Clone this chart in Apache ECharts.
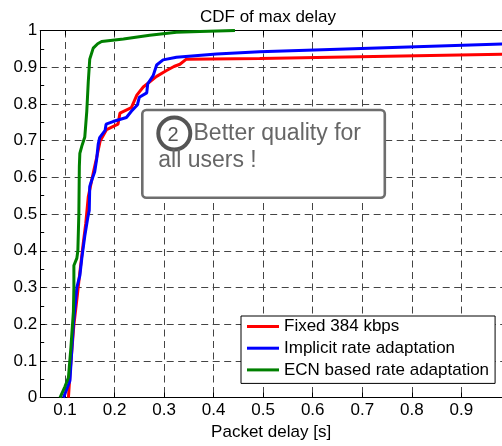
<!DOCTYPE html>
<html>
<head>
<meta charset="utf-8">
<script src="https://cdn.jsdelivr.net/npm/echarts@6/dist/echarts.min.js"></script>
<style>
  html, body { margin: 0; padding: 0; background: #ffffff; }
  #chart { width: 502px; height: 446px; }
</style>
</head>
<body>
<div id="chart"></div>
<script>
// Tick values for the delay axis (s)
const xTickValues = [0.1, 0.2, 0.3, 0.4, 0.5, 0.6, 0.7, 0.8, 0.9];

// Legend names
const seriesNames = ['Fixed 384 kbps', 'Implicit rate adaptation', 'ECN based rate adaptation'];

// CDF points: [packet delay (s), cumulative probability]
const fixedRate = [
  [0.107, 0], [0.110, 0.064], [0.118, 0.198], [0.125, 0.279], [0.130, 0.341],
  [0.137, 0.422], [0.142, 0.475], [0.147, 0.547], [0.154, 0.592], [0.158, 0.618],
  [0.164, 0.654], [0.171, 0.699], [0.184, 0.730], [0.207, 0.745], [0.211, 0.775],
  [0.234, 0.790], [0.245, 0.824], [0.258, 0.846], [0.285, 0.875], [0.305, 0.891],
  [0.320, 0.902], [0.332, 0.908], [0.345, 0.922], [0.493, 0.924], [1.0, 0.936]
];

const implicitRate = [
  [0.097, 0], [0.110, 0.046], [0.117, 0.200], [0.124, 0.300], [0.130, 0.332],
  [0.134, 0.380], [0.140, 0.440], [0.146, 0.490], [0.149, 0.510], [0.150, 0.575],
  [0.154, 0.592], [0.160, 0.615], [0.164, 0.650], [0.167, 0.690], [0.170, 0.708],
  [0.181, 0.728], [0.183, 0.745], [0.197, 0.752], [0.224, 0.763], [0.234, 0.780],
  [0.246, 0.797], [0.250, 0.818], [0.265, 0.830], [0.267, 0.855], [0.278, 0.877],
  [0.285, 0.906], [0.298, 0.920], [0.325, 0.927], [0.406, 0.936], [0.493, 0.942],
  [1.0, 0.964]
];

const ecnRate = [
  [0.090, 0], [0.100, 0.030], [0.107, 0.055], [0.112, 0.137], [0.117, 0.234],
  [0.118, 0.300], [0.118, 0.360], [0.124, 0.380], [0.126, 0.400], [0.128, 0.500],
  [0.129, 0.630], [0.130, 0.665], [0.134, 0.685], [0.140, 0.710], [0.144, 0.780],
  [0.147, 0.860], [0.150, 0.922], [0.157, 0.952], [0.166, 0.964], [0.174, 0.970],
  [0.218, 0.977], [0.271, 0.987], [0.325, 0.995], [0.372, 0.997], [0.443, 1.0]
];

const FONT = 'Liberation Sans, Arial, Helvetica, sans-serif';
const xMin = 0.05, xMax = 0.982;

const chart = echarts.init(document.getElementById('chart'), null, { renderer: 'canvas' });

const gridDash = { color: '#444', width: 1, type: [7, 4.5] };

chart.setOption({
  animation: false,
  backgroundColor: '#ffffff',
  title: {
    text: 'CDF of max delay',
    left: 195,
    top: 4,
    textStyle: { fontFamily: FONT, fontSize: 17, fontWeight: 'normal', color: '#000' }
  },
  grid: { left: 40.2, right: 0, top: 30.5, bottom: 42 },
  legend: {
    data: seriesNames,
    orient: 'vertical',
    left: 241,
    top: 316,
    padding: [2, 6, 5, 6],
    itemGap: 4.7,
    itemWidth: 32,
    itemHeight: 3,
    icon: 'rect',
    borderColor: '#000',
    borderWidth: 1,
    backgroundColor: '#fff',
    textStyle: { fontFamily: FONT, fontSize: 17, color: '#000', lineHeight: 17 }
  },
  xAxis: [
    {
      type: 'value',
      position: 'bottom',
      min: xMin,
      max: xMax,
      name: 'Packet delay [s]',
      nameLocation: 'middle',
      nameGap: 21.5,
      nameTextStyle: { fontFamily: FONT, fontSize: 17, color: '#000' },
      axisLine: { show: true, lineStyle: { color: '#000', width: 1 } },
      axisTick: { show: true, inside: true, length: 5, customValues: xTickValues, lineStyle: { color: '#000' } },
      axisLabel: { show: true, customValues: xTickValues, margin: 4.5, fontFamily: FONT, fontSize: 17, color: '#000' },
      splitLine: { show: true, lineStyle: gridDash }
    },
    {
      type: 'value',
      position: 'top',
      min: xMin,
      max: xMax,
      axisLine: { show: true, lineStyle: { color: '#000', width: 1 } },
      axisTick: { show: true, inside: true, length: 5, customValues: xTickValues, lineStyle: { color: '#000' } },
      axisLabel: { show: false },
      splitLine: { show: false }
    }
  ],
  yAxis: {
    type: 'value',
    min: 0,
    max: 1,
    interval: 0.1,
    axisLine: { show: true, lineStyle: { color: '#000', width: 1 } },
    axisTick: { show: true, inside: true, length: 5, lineStyle: { color: '#000' } },
    minorTick: { show: true, splitNumber: 2, length: 4, lineStyle: { color: '#000' } },
    axisLabel: { margin: 3, fontFamily: FONT, fontSize: 17, color: '#000' },
    splitLine: { show: true, lineStyle: gridDash }
  },
  series: [
    { name: seriesNames[0], type: 'line', data: fixedRate, showSymbol: false, clip: true,
      color: '#ff0000', lineStyle: { width: 3, color: '#ff0000' } },
    { name: seriesNames[1], type: 'line', data: implicitRate, showSymbol: false, clip: true,
      color: '#0000ff', lineStyle: { width: 3, color: '#0000ff' } },
    { name: seriesNames[2], type: 'line', data: ecnRate, showSymbol: false, clip: true,
      color: '#008000', lineStyle: { width: 3, color: '#008000' } }
  ],
  graphic: [
    { type: 'rect', z: 100, shape: { x: 142.3, y: 110, width: 242.5, height: 87.7, r: 4 },
      style: { fill: '#ffffff', stroke: '#6e6e6e', lineWidth: 2.6 } },
    { type: 'circle', z: 101, shape: { cx: 174.3, cy: 133.5, r: 16 },
      style: { fill: 'none', stroke: '#555', lineWidth: 4 } },
    { type: 'text', z: 101, x: 173, y: 135, style: { text: '2', fontFamily: FONT, fontSize: 20,
      fill: '#555', align: 'center', verticalAlign: 'middle' } },
    { type: 'text', z: 101, x: 193.5, y: 134, style: { text: 'Better quality for', fontFamily: FONT,
      fontSize: 23, fill: '#666', align: 'left', verticalAlign: 'middle' } },
    { type: 'text', z: 101, x: 158.3, y: 161, style: { text: 'all users !', fontFamily: FONT,
      fontSize: 23, fill: '#666', align: 'left', verticalAlign: 'middle' } }
  ]
});
</script>
</body>
</html>
